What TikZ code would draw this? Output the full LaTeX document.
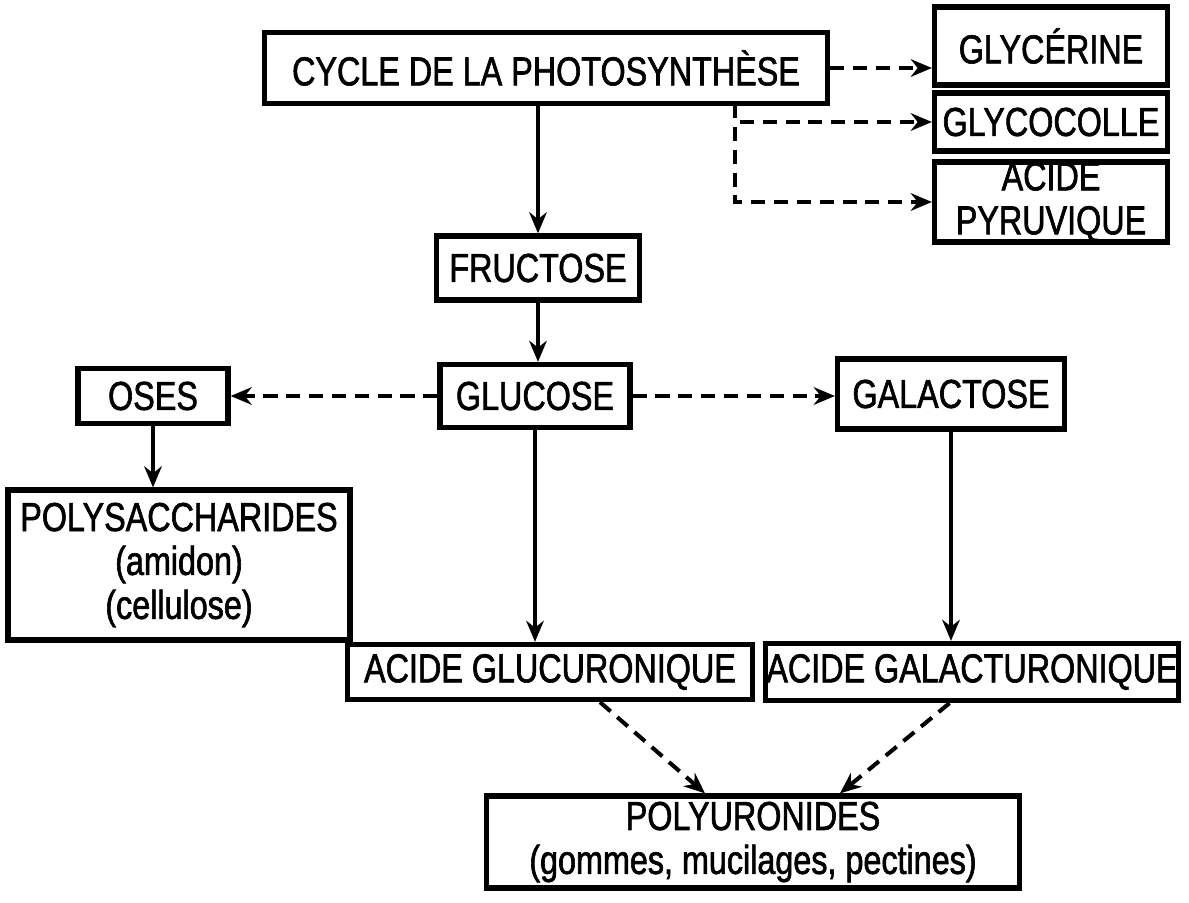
\documentclass[tikz,border=0pt]{standalone}
\usepackage{fontspec}
\setmainfont{Liberation Sans}[FakeStretch=0.8, FakeBold=1.5]
\usetikzlibrary{arrows.meta}
\tikzset{
	box/.style={draw, line width=3pt, inner sep=0pt, align=center, font=\fontsize{23}{25}\selectfont},
	flow/.style={-{Stealth[length=12pt, width=10pt]}, line width=2.3pt},
	dflow/.style={flow, dash pattern=on 8pt off 5pt},
}
\begin{document}
\begin{tikzpicture}[x=0.02cm, y=-0.02cm]
		\useasboundingbox (0, 0) rectangle (1189, 902);
		\node[box, minimum width=11.26cm, minimum height=1.42cm] (cycle) at(546, 68) {CYCLE DE LA PHOTOSYNTHÈSE};
		\node[box, minimum width=4.66cm, minimum height=1.56cm] (glycerine) at(1051, 46) {GLYCÉRINE};
		\node[box, minimum width=4.66cm, minimum height=1.16cm] (glycocolle) at(1051, 122) {GLYCOCOLLE};
		\node[box, minimum width=4.66cm, minimum height=1.6cm] (pyruvique) at(1051, 202) {ACIDE\\PYRUVIQUE};
		\node[box, minimum width=4.06cm, minimum height=1.28cm] (fructose) at(538, 268) {FRUCTOSE};
		\node[box, minimum width=3cm, minimum height=1.1cm] (oses) at(153, 396) {OSES};
		\node[box, minimum width=3.8cm, minimum height=1.26cm] (glucose) at(535, 396) {GLUCOSE};
		\node[box, minimum width=4.54cm, minimum height=1.4cm] (galactose) at(951, 394) {GALACTOSE};
		\node[box, minimum width=6.84cm, minimum height=3cm] (polysacch) at(179, 565) {POLYSACCHARIDES\\(amidon)\\(cellulose)};
		\node[box, minimum width=8.1cm, minimum height=1.1cm] (glucuro) at(550, 672) {ACIDE GLUCURONIQUE};
		\node[box, minimum width=8.26cm, minimum height=1.14cm] (galacturo) at(972, 672) {ACIDE GALACTURONIQUE};
		\node[box, minimum width=10.66cm, minimum height=1.84cm] (polyuro) at(753, 842) {POLYURONIDES\\(gommes, mucilages, pectines)};
		\coordinate (split) at(735, 104);

		\draw[flow] (cycle.south -| fructose) -- (fructose.north);
		\draw[flow] (fructose.south) -- (fructose.south |- glucose.north);
		\draw[dflow] (cycle.east) -- (cycle.east -| glycerine.west);
		\draw[dflow] (split) |- (glycocolle.west);
		\draw[dflow] (split) |- (pyruvique.west);
		\draw[dflow] (glucose.west) -- (oses.east);
		\draw[dflow] (glucose.east) -- (glucose.east -| galactose.west);
		\draw[flow] (oses.south) -- (oses.south |- polysacch.north);
		\draw[flow] (glucose.south) -- (glucose.south |- glucuro.north);
		\draw[flow] (galactose.south) -- (galactose.south |- galacturo.north);
		\draw[dflow] ([xshift=1cm]glucuro.south) -- ([xshift=-0.96cm]polyuro.north);
		\draw[dflow] ([xshift=-0.45cm]galacturo.south) -- ([xshift=1.74cm]polyuro.north);
	\end{tikzpicture}
\end{document}
